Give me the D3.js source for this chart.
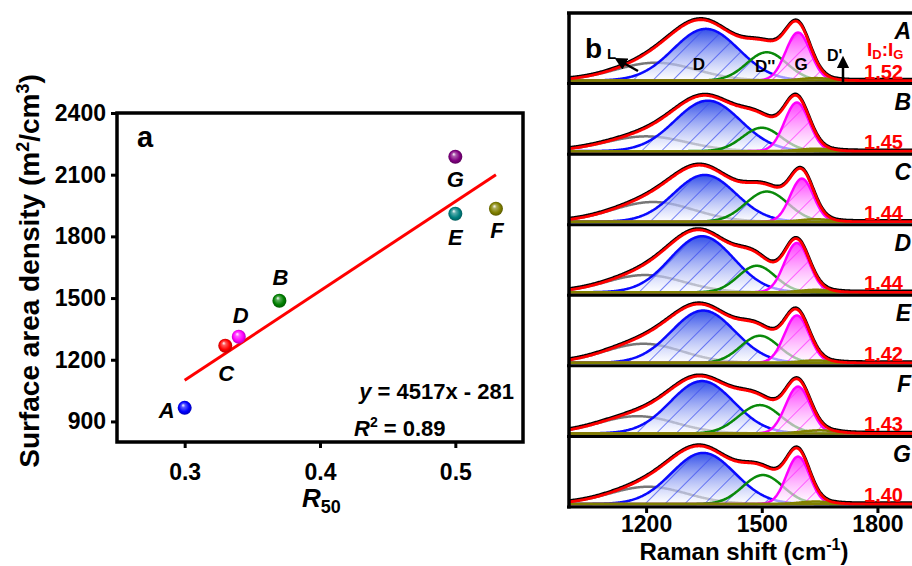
<!DOCTYPE html>
<html>
<head>
<meta charset="utf-8">
<script src="https://cdn.jsdelivr.net/npm/d3@7"></script>
<style>
body { margin: 0; background: #fff; }
svg { display: block; }
text { font-family: "Liberation Sans", Arial, sans-serif; font-weight: bold; }
</style>
</head>
<body>
<div id="chart"></div>
<script>
// ---- panel a data
var samples = ["A", "B", "C", "D", "E", "F", "G"];
var r50 = [0.30, 0.37, 0.33, 0.34, 0.50, 0.53, 0.50];
var density = [966, 1487, 1268, 1312, 1910, 1934, 2187];
var dotColors = ["#0000ff", "#008000", "#ff0000", "#ff00ff", "#008080", "#808000", "#800080"];
var labelShift = [[-18, 10], [1, -16], [1, 35], [2, -14], [0, 31], [1, 29], [0, 30]];
var fitX = [0.30, 0.53];
var fitY = [1100, 2100];
var xTicksA = [0.3, 0.4, 0.5];
var yTicksA = [900, 1200, 1500, 1800, 2100, 2400];

// ---- panel b data: fitted bands [centre cm-1, height, width]
var bandL  = [[1225, 0.29, 105], [1200, 0.24, 105], [1218, 0.32, 105], [1197, 0.28, 100], [1193, 0.31, 100], [1177, 0.28, 100], [1205, 0.28, 100]];
var bandD  = [[1355, 0.84, 85], [1360, 0.82, 85], [1352, 0.76, 80], [1345, 0.91, 82], [1348, 0.85, 82], [1345, 0.85, 82], [1348, 0.83, 82]];
var bandD2 = [[1513, 0.46, 52], [1500, 0.38, 50], [1513, 0.49, 55], [1487, 0.43, 48], [1495, 0.44, 50], [1495, 0.46, 55], [1503, 0.47, 52]];
var bandG  = [[1594, 0.78, 32], [1591, 0.79, 32], [1604, 0.70, 30], [1591, 0.80, 32], [1591, 0.77, 32], [1594, 0.76, 32], [1594, 0.77, 30]];
var bandDp = [[1640, 0.04, 40], [1640, 0.04, 40], [1640, 0.04, 40], [1640, 0.04, 40], [1640, 0.04, 40], [1650, 0.05, 45], [1640, 0.04, 40]];
var ratios = ["1.52", "1.45", "1.44", "1.44", "1.42", "1.43", "1.40"];
var xTicksB = [1200, 1500, 1800];

var svg = d3.select("#chart").append("svg")
    .attr("width", 912)
    .attr("height", 566);
var defs = svg.append("defs");

// ================= panel a =================
var xa = d3.scaleLinear().domain([0.25, 0.55]).range([117, 523]);
var ya = d3.scaleLinear().domain([800, 2400]).range([442, 113]);

dotColors.forEach(function (c, i) {
    var gr = defs.append("radialGradient").attr("id", "ball" + i)
        .attr("cx", "0.5").attr("cy", "0.5").attr("r", "0.55")
        .attr("fx", "0.38").attr("fy", "0.3");
    gr.append("stop").attr("offset", "0").attr("stop-color", "#ffffff");
    gr.append("stop").attr("offset", "0.25").attr("stop-color", d3.interpolateRgb(c, "#fff")(0.35));
    gr.append("stop").attr("offset", "0.65").attr("stop-color", c);
    gr.append("stop").attr("offset", "1").attr("stop-color", d3.color(c).darker(1.2));
});

var ga = svg.append("g");

ga.append("g")
    .attr("transform", "translate(0,442)")
    .call(d3.axisBottom(xa).tickValues(xTicksA).tickSize(6).tickPadding(16).tickFormat(d3.format(".1f")))
    .call(function (g) { g.select(".domain").remove(); })
    .call(function (g) { g.selectAll("line").attr("stroke-width", 3); })
    .call(function (g) { g.selectAll("text").attr("font-size", 23).attr("font-family", null).attr("fill", "#000"); });

ga.append("g")
    .attr("transform", "translate(117,0)")
    .call(d3.axisLeft(ya).tickValues(yTicksA).tickSize(6).tickPadding(5).tickFormat(d3.format("d")))
    .call(function (g) { g.select(".domain").remove(); })
    .call(function (g) { g.selectAll("line").attr("stroke-width", 3); })
    .call(function (g) { g.selectAll("text").attr("font-size", 23).attr("font-family", null).attr("fill", "#000"); });

ga.append("rect")
    .attr("x", xa(0.25)).attr("y", ya(2400))
    .attr("width", xa(0.55) - xa(0.25)).attr("height", ya(800) - ya(2400))
    .attr("fill", "none").attr("stroke", "#000").attr("stroke-width", 3.5);

ga.append("line")
    .attr("x1", xa(fitX[0])).attr("y1", ya(fitY[0]))
    .attr("x2", xa(fitX[1])).attr("y2", ya(fitY[1]))
    .attr("stroke", "#ff0000").attr("stroke-width", 3);

ga.selectAll("circle.ball")
    .data(samples)
    .enter()
    .append("circle")
    .attr("class", "ball")
    .attr("cx", function (d, i) { return xa(r50[i]); })
    .attr("cy", function (d, i) { return ya(density[i]); })
    .attr("r", 7)
    .attr("fill", function (d, i) { return "url(#ball" + i + ")"; });

ga.selectAll("text.lab")
    .data(samples)
    .enter()
    .append("text")
    .attr("class", "lab")
    .attr("x", function (d, i) { return xa(r50[i]) + labelShift[i][0]; })
    .attr("y", function (d, i) { return ya(density[i]) + labelShift[i][1]; })
    .attr("text-anchor", "middle")
    .attr("font-size", 22)
    .attr("font-style", "italic")
    .text(function (d) { return d; });

ga.append("text").attr("x", 137).attr("y", 147).attr("font-size", 29).text("a");

var eq = ga.append("text").attr("x", 514).attr("y", 399).attr("text-anchor", "end").attr("font-size", 22);
eq.append("tspan").attr("font-style", "italic").text("y");
eq.append("tspan").text(" = 4517x - 281");

var r2 = ga.append("text").attr("x", 354).attr("y", 436).attr("font-size", 22);
r2.append("tspan").attr("font-style", "italic").text("R");
r2.append("tspan").attr("font-size", 14).attr("dy", -9).text("2");
r2.append("tspan").attr("dy", 9).text(" = 0.89");

var xt = ga.append("text").attr("x", 302).attr("y", 507).attr("font-size", 26);
xt.append("tspan").attr("font-style", "italic").text("R");
xt.append("tspan").attr("font-size", 18).attr("dy", 6).text("50");

var yt = ga.append("text")
    .attr("transform", "translate(39,271) rotate(-90)")
    .attr("text-anchor", "middle")
    .attr("font-size", 28);
yt.append("tspan").text("Surface area density (m");
yt.append("tspan").attr("font-size", 18).attr("dy", -10).text("2");
yt.append("tspan").attr("dy", 10).text("/cm");
yt.append("tspan").attr("font-size", 18).attr("dy", -10).text("3");
yt.append("tspan").attr("dy", 10).text(")");

// ================= panel b =================
var xb = d3.scaleLinear().domain([1000, 1900]).range([569, 916]);
var panelTop = 13, panelH = 70.57;
var grid = d3.range(1000, 1901, 2);

function band(p, x) { return p[1] * Math.exp(-(x - p[0]) * (x - p[0]) / (2 * p[2] * p[2])); }

function makeGrad(id, top, topOp, botOp) {
    var gr = defs.append("linearGradient").attr("id", id)
        .attr("x1", 0).attr("y1", 0).attr("x2", 0).attr("y2", 1);
    gr.append("stop").attr("offset", "0").attr("stop-color", top).attr("stop-opacity", topOp);
    gr.append("stop").attr("offset", "1").attr("stop-color", "#ffffff").attr("stop-opacity", botOp);
}
makeGrad("gradD", "#2846e8", 0.95, 0.6);
makeGrad("gradG", "#ff30ff", 0.95, 0.6);

function makeHatch(id, col) {
    var p = defs.append("pattern").attr("id", id)
        .attr("patternUnits", "userSpaceOnUse")
        .attr("width", 14).attr("height", 14)
        .attr("patternTransform", "rotate(45)");
    p.append("line").attr("x1", 0).attr("y1", 0).attr("x2", 0).attr("y2", 14)
        .attr("stroke", col).attr("stroke-width", 1.4);
}
makeHatch("hatchD", "#3a4cf0");
makeHatch("hatchG", "#ff30ff");

defs.append("marker").attr("id", "arrow")
    .attr("viewBox", "0 0 10 10").attr("refX", 5).attr("refY", 5)
    .attr("markerWidth", 5).attr("markerHeight", 5).attr("orient", "auto")
    .append("path").attr("d", "M0,0 L10,5 L0,10 z").attr("fill", "#000");

samples.forEach(function (s, i) {
    var top = panelTop + i * panelH, bottom = top + panelH;
    var yb = d3.scaleLinear().domain([0, 1]).range([bottom - 3, top + 6]);

    defs.append("clipPath").attr("id", "clip" + i)
        .append("rect").attr("x", 569).attr("y", top).attr("width", 347).attr("height", panelH);

    var g = svg.append("g").attr("clip-path", "url(#clip" + i + ")");

    var line = d3.line().x(function (d) { return xb(d[0]); }).y(function (d) { return yb(d[1]); });
    var area = d3.area().x(function (d) { return xb(d[0]); }).y0(yb(0)).y1(function (d) { return yb(d[1]); });

    var pL = grid.map(function (x) { return [x, band(bandL[i], x)]; });
    var pD = grid.map(function (x) { return [x, band(bandD[i], x)]; });
    var pD2 = grid.map(function (x) { return [x, band(bandD2[i], x)]; });
    var pG = grid.map(function (x) { return [x, band(bandG[i], x)]; });
    var pDp = grid.map(function (x) { return [x, band(bandDp[i], x)]; });
    var pSum = grid.map(function (x) {
        return [x, band(bandL[i], x) + band(bandD[i], x) + band(bandD2[i], x) + band(bandG[i], x) + band(bandDp[i], x)];
    });

    g.append("path").attr("d", line(pL)).attr("fill", "none").attr("stroke", "#777").attr("stroke-width", 2.5);
    g.append("path").attr("d", area(pD)).attr("fill", "url(#gradD)");
    g.append("path").attr("d", area(pD)).attr("fill", "url(#hatchD)");
    g.append("path").attr("d", line(pD)).attr("fill", "none").attr("stroke", "#0a0aff").attr("stroke-width", 2.5);
    g.append("path").attr("d", line(pD2)).attr("fill", "none").attr("stroke", "#0a8a0a").attr("stroke-width", 2.5);
    g.append("path").attr("d", area(pG)).attr("fill", "url(#gradG)");
    g.append("path").attr("d", area(pG)).attr("fill", "url(#hatchG)");
    g.append("path").attr("d", line(pG)).attr("fill", "none").attr("stroke", "#ff00ff").attr("stroke-width", 2.5);
    g.append("path").attr("d", line(pDp)).attr("fill", "none").attr("stroke", "#808000").attr("stroke-width", 2.5);
    g.append("line").attr("x1", 569).attr("x2", 916).attr("y1", yb(0)).attr("y2", yb(0))
        .attr("stroke", "#808000").attr("stroke-width", 2.5);
    g.append("path").attr("d", line(pSum)).attr("transform", "translate(0,-1.2)")
        .attr("fill", "none").attr("stroke", "#000").attr("stroke-width", 3);
    g.append("path").attr("d", line(pSum)).attr("fill", "none").attr("stroke", "#ff0000").attr("stroke-width", 2.8);

    svg.append("line").attr("x1", 567).attr("x2", 916).attr("y1", bottom).attr("y2", bottom)
        .attr("stroke", "#000").attr("stroke-width", 3);
});

// sample letters and I_D:I_G values on top of the spectra
samples.forEach(function (s, i) {
    var top = panelTop + i * panelH, bottom = top + panelH;
    svg.append("text").attr("x", 911).attr("y", top + 26)
        .attr("text-anchor", "end").attr("font-size", 23).attr("font-style", "italic").text(s);
    svg.append("text").attr("x", 903).attr("y", bottom - 5)
        .attr("text-anchor", "end").attr("font-size", 20).attr("fill", "#ff0000").text(ratios[i]);
});

// frame of panel b
svg.append("line").attr("x1", 567).attr("x2", 916).attr("y1", panelTop).attr("y2", panelTop)
    .attr("stroke", "#000").attr("stroke-width", 3.5);
svg.append("line").attr("x1", 569).attr("x2", 569).attr("y1", panelTop).attr("y2", panelTop + 7 * panelH + 1.5)
    .attr("stroke", "#000").attr("stroke-width", 3.5);

svg.append("g")
    .attr("transform", "translate(0," + (panelTop + 7 * panelH) + ")")
    .call(d3.axisBottom(xb).tickValues(xTicksB).tickSize(6).tickPadding(3).tickFormat(d3.format("d")))
    .call(function (g) { g.select(".domain").remove(); })
    .call(function (g) { g.selectAll("line").attr("stroke-width", 3); })
    .call(function (g) { g.selectAll("text").attr("font-size", 23).attr("font-family", null).attr("fill", "#000"); });

var xbt = svg.append("text").attr("x", 744).attr("y", 560).attr("text-anchor", "middle").attr("font-size", 24);
xbt.append("tspan").text("Raman shift (cm");
xbt.append("tspan").attr("font-size", 16).attr("dy", -10).text("-1");
xbt.append("tspan").attr("dy", 10).text(")");

// annotations in the top spectrum
svg.append("text").attr("x", 585).attr("y", 58).attr("font-size", 28).text("b");
svg.append("text").attr("x", 607).attr("y", 59).attr("font-size", 15).text("L");
svg.append("line").attr("x1", 638).attr("y1", 71).attr("x2", 620).attr("y2", 61)
    .attr("stroke", "#000").attr("stroke-width", 2.5).attr("marker-end", "url(#arrow)");
svg.append("text").attr("x", 699).attr("y", 70).attr("text-anchor", "middle").attr("font-size", 17).text("D");
svg.append("text").attr("x", 755).attr("y", 72).attr("font-size", 17).text("D''");
svg.append("text").attr("x", 801).attr("y", 70).attr("text-anchor", "middle").attr("font-size", 17).text("G");
svg.append("text").attr("x", 827).attr("y", 61).attr("font-size", 16).text("D'");
svg.append("line").attr("x1", 843).attr("y1", 83).attr("x2", 843).attr("y2", 62)
    .attr("stroke", "#000").attr("stroke-width", 2.5).attr("marker-end", "url(#arrow)");

var idg = svg.append("text").attr("x", 867).attr("y", 56).attr("font-size", 19).attr("fill", "#ff0000");
idg.append("tspan").text("I");
idg.append("tspan").attr("font-size", 13).attr("dy", 3).text("D");
idg.append("tspan").attr("dy", -3).text(":I");
idg.append("tspan").attr("font-size", 13).attr("dy", 3).text("G");
</script>
</body>
</html>
